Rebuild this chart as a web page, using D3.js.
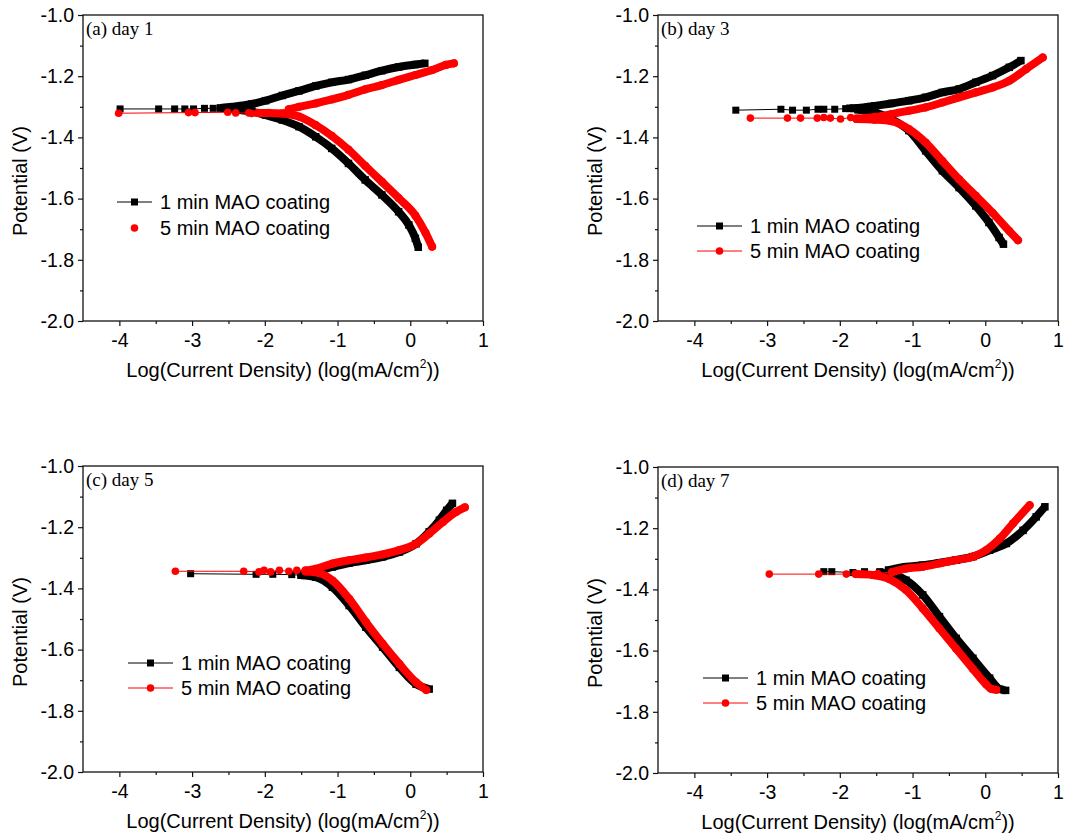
<!DOCTYPE html>
<html>
<head>
<meta charset="utf-8">
<script src="https://cdn.jsdelivr.net/npm/d3@7"></script>
<style>
body { margin: 0; background: #fff; }
svg text { font-family: "Liberation Sans", Arial, sans-serif; fill: #000; }
</style>
</head>
<body>
<div id="chart"></div>
<script>
const w = 1083;
const h = 837;
const pw = 400;
const ph = 306;

const panelLabels = ["(a) day 1", "(b) day 3", "(c) day 5", "(d) day 7"];
const seriesNames = ["1 min MAO coating", "5 min MAO coating"];
const xTicks = [-4, -3, -2, -1, 0, 1];
const xMinor = [-3.5, -2.5, -1.5, -0.5, 0.5];
const yTicks = [-1.0, -1.2, -1.4, -1.6, -1.8, -2.0];
const yMinor = [-1.1, -1.3, -1.5, -1.7, -1.9];

// (a) day 1
const a1Sparse = [[-3.99,-1.307],[-3.46,-1.307],[-3.24,-1.307],[-3.10,-1.307],[-2.98,-1.307],[-2.83,-1.305],[-2.71,-1.305],[-2.61,-1.304]];
const a1Anodic = [[-2.61,-1.304],[-2.45,-1.300],[-2.18,-1.291],[-1.99,-1.280],[-1.76,-1.263],[-1.53,-1.248],[-1.30,-1.232],[-1.08,-1.220],[-0.85,-1.211],[-0.62,-1.197],[-0.39,-1.182],[-0.16,-1.170],[0.07,-1.162],[0.20,-1.158]];
const a1Cathodic = [[-2.45,-1.308],[-2.18,-1.316],[-1.99,-1.327],[-1.76,-1.343],[-1.53,-1.365],[-1.30,-1.398],[-1.08,-1.436],[-0.85,-1.485],[-0.62,-1.539],[-0.39,-1.588],[-0.16,-1.643],[-0.02,-1.686],[0.07,-1.730],[0.11,-1.759]];
const a5Sparse = [[-4.01,-1.321],[-3.05,-1.319],[-2.96,-1.319],[-2.51,-1.318],[-2.40,-1.320],[-2.22,-1.320],[-2.18,-1.322],[-2.09,-1.320]];
const a5Anodic = [[-1.67,-1.308],[-1.53,-1.300],[-1.30,-1.289],[-1.08,-1.276],[-0.85,-1.261],[-0.62,-1.243],[-0.39,-1.229],[-0.16,-1.212],[0.07,-1.196],[0.30,-1.180],[0.49,-1.163],[0.60,-1.158]];
const a5Cathodic = [[-2.09,-1.320],[-1.95,-1.320],[-1.76,-1.322],[-1.53,-1.332],[-1.30,-1.360],[-1.08,-1.395],[-0.85,-1.440],[-0.62,-1.493],[-0.39,-1.545],[-0.16,-1.598],[0.07,-1.655],[0.21,-1.712],[0.30,-1.757]];

// (b) day 3
const b1Sparse = [[-3.43,-1.311],[-2.81,-1.308],[-2.65,-1.311],[-2.46,-1.311],[-2.30,-1.308],[-2.22,-1.308],[-2.07,-1.308],[-1.92,-1.306],[-1.86,-1.305]];
const b1Anodic = [[-1.86,-1.305],[-1.75,-1.304],[-1.52,-1.297],[-1.29,-1.289],[-1.05,-1.280],[-0.82,-1.269],[-0.59,-1.253],[-0.36,-1.242],[-0.13,-1.220],[0.10,-1.198],[0.33,-1.171],[0.49,-1.149]];
const b1Cathodic = [[-1.75,-1.310],[-1.52,-1.318],[-1.29,-1.340],[-1.05,-1.378],[-0.82,-1.444],[-0.59,-1.509],[-0.36,-1.564],[-0.13,-1.624],[0.05,-1.678],[0.19,-1.727],[0.25,-1.749]];
const b5Sparse = [[-3.23,-1.337],[-2.72,-1.337],[-2.54,-1.337],[-2.31,-1.337],[-2.22,-1.335],[-2.13,-1.337],[-1.99,-1.340],[-1.85,-1.335],[-1.77,-1.340]];
const b5Anodic = [[-1.77,-1.338],[-1.52,-1.333],[-1.29,-1.324],[-1.05,-1.313],[-0.82,-1.302],[-0.59,-1.286],[-0.36,-1.269],[-0.13,-1.253],[0.10,-1.237],[0.33,-1.215],[0.56,-1.177],[0.79,-1.139]];
const b5Cathodic = [[-1.77,-1.340],[-1.52,-1.342],[-1.29,-1.347],[-1.05,-1.373],[-0.82,-1.417],[-0.59,-1.477],[-0.36,-1.537],[-0.13,-1.591],[0.10,-1.646],[0.33,-1.706],[0.45,-1.736]];

// (c) day 5
const c1Sparse = [[-3.02,-1.352],[-2.12,-1.354],[-1.89,-1.354],[-1.63,-1.355],[-1.50,-1.357]];
const c1Anodic = [[-1.50,-1.355],[-1.30,-1.346],[-1.07,-1.330],[-0.84,-1.317],[-0.61,-1.308],[-0.38,-1.297],[-0.15,-1.281],[0.08,-1.254],[0.26,-1.215],[0.40,-1.177],[0.50,-1.145],[0.58,-1.122]];
const c1Cathodic = [[-1.50,-1.357],[-1.30,-1.363],[-1.07,-1.396],[-0.84,-1.456],[-0.61,-1.527],[-0.38,-1.592],[-0.15,-1.658],[0.08,-1.713],[0.26,-1.729]];
const c5Sparse = [[-3.23,-1.344],[-2.29,-1.344],[-2.08,-1.346],[-2.01,-1.341],[-1.92,-1.346],[-1.80,-1.341],[-1.67,-1.344],[-1.56,-1.341],[-1.44,-1.341]];
const c5Anodic = [[-1.44,-1.342],[-1.30,-1.336],[-1.07,-1.319],[-0.84,-1.308],[-0.61,-1.299],[-0.38,-1.289],[-0.15,-1.275],[0.08,-1.254],[0.26,-1.221],[0.45,-1.183],[0.63,-1.150],[0.75,-1.135]];
const c5Cathodic = [[-1.44,-1.345],[-1.25,-1.350],[-1.07,-1.374],[-0.84,-1.434],[-0.61,-1.510],[-0.38,-1.581],[-0.15,-1.647],[0.08,-1.707],[0.22,-1.732]];

// (d) day 7
const d1Sparse = [[-2.22,-1.342],[-2.11,-1.342],[-1.82,-1.345],[-1.66,-1.342],[-1.45,-1.342],[-1.33,-1.337]];
const d1Anodic = [[-1.33,-1.337],[-1.09,-1.326],[-0.86,-1.321],[-0.63,-1.313],[-0.40,-1.304],[-0.17,-1.293],[0.06,-1.272],[0.29,-1.250],[0.52,-1.207],[0.70,-1.163],[0.82,-1.130]];
const d1Cathodic = [[-1.45,-1.345],[-1.32,-1.348],[-1.09,-1.370],[-0.86,-1.418],[-0.63,-1.489],[-0.40,-1.560],[-0.17,-1.625],[0.06,-1.690],[0.20,-1.726],[0.28,-1.730]];
const d5Sparse = [[-2.97,-1.350],[-2.29,-1.350],[-1.91,-1.350],[-1.69,-1.350],[-1.48,-1.348],[-1.28,-1.343]];
const d5Anodic = [[-1.28,-1.343],[-1.09,-1.332],[-0.86,-1.326],[-0.63,-1.315],[-0.40,-1.304],[-0.17,-1.293],[0.01,-1.272],[0.20,-1.234],[0.38,-1.185],[0.61,-1.125]];
const d5Cathodic = [[-1.78,-1.350],[-1.55,-1.353],[-1.32,-1.366],[-1.09,-1.402],[-0.86,-1.462],[-0.63,-1.528],[-0.40,-1.594],[-0.17,-1.660],[0.01,-1.710],[0.08,-1.725],[0.15,-1.728]];

const panelData = [
	[[a1Sparse, a1Anodic, a1Cathodic], [a5Sparse, a5Anodic, a5Cathodic]],
	[[b1Sparse, b1Anodic, b1Cathodic], [b5Sparse, b5Anodic, b5Cathodic]],
	[[c1Sparse, c1Anodic, c1Cathodic], [c5Sparse, c5Anodic, c5Cathodic]],
	[[d1Sparse, d1Anodic, d1Cathodic], [d5Sparse, d5Anodic, d5Cathodic]]
];

// layout of each panel (pixels)
const layout = [
	{left: 83, top: 15, legX1: 34, legX2: 69, legY: [187, 213], redLegLine: false},
	{left: 658, top: 15, legX1: 39, legX2: 84, legY: [211, 236], redLegLine: true},
	{left: 83, top: 466, legX1: 45, legX2: 90, legY: [197, 222], redLegLine: true},
	{left: 658, top: 467, legX1: 45, legX2: 90, legY: [211, 236], redLegLine: true}
];

const colors = ["#000000", "#ff0000"];

let svg = d3.select('#chart')
	.append('svg')
		.attr('width', w)
		.attr('height', h);

let xScale = d3.scaleLinear().domain([-4.5, 1]).range([0, pw]);
let yScale = d3.scaleLinear().domain([-2.0, -1.0]).range([ph, 0]);

function marker(g, x, y, i, size) {
	if (i === 0) {
		g.append("rect")
			.attr("x", x - size / 2)
			.attr("y", y - size / 2)
			.attr("width", size)
			.attr("height", size)
			.attr("fill", colors[0]);
	} else {
		g.append("circle")
			.attr("cx", x)
			.attr("cy", y)
			.attr("r", size / 2 + 0.3)
			.attr("fill", colors[1]);
	}
}

function drawSeries(g, series, i) {
	const [sparse, anodic, cathodic] = series;
	const thin = d3.line()
		.x(d => xScale(d[0]))
		.y(d => yScale(d[1]));
	const thick = d3.line()
		.curve(d3.curveMonotoneX)
		.x(d => xScale(d[0]))
		.y(d => yScale(d[1]));

	// thin connecting line through the sparse points
	g.append("path")
		.attr("d", thin(sparse.concat([anodic[0]])))
		.attr("fill", "none")
		.attr("stroke", colors[i])
		.attr("stroke-width", 1);

	// dense branches look like a thick band of markers
	[anodic, cathodic].forEach(branch => {
		g.append("path")
			.attr("d", thick(branch))
			.attr("fill", "none")
			.attr("stroke", colors[i])
			.attr("stroke-width", 8)
			.attr("stroke-linejoin", "round")
			.attr("stroke-linecap", i === 0 ? "butt" : "round");
		branch.forEach(d => marker(g, xScale(d[0]), yScale(d[1]), i, 7.5));
	});

	sparse.forEach(d => marker(g, xScale(d[0]), yScale(d[1]), i, 7));
}

function drawPanel(p) {
	const L = layout[p];
	const g = svg.append("g").attr("transform", "translate(" + L.left + "," + L.top + ")");

	// axes
	g.append("g")
		.attr("transform", "translate(0," + ph + ")")
		.call(d3.axisBottom(xScale).tickValues(xTicks).tickSizeInner(5).tickSizeOuter(0).tickPadding(7).tickFormat(d => String(d)));
	g.append("g")
		.attr("transform", "translate(0," + ph + ")")
		.call(d3.axisBottom(xScale).tickValues(xMinor).tickSizeInner(3).tickSizeOuter(0).tickFormat(""));
	g.append("g")
		.call(d3.axisLeft(yScale).tickValues(yTicks).tickSizeInner(5).tickSizeOuter(0).tickPadding(4).tickFormat(d => d.toFixed(1)));
	g.append("g")
		.call(d3.axisLeft(yScale).tickValues(yMinor).tickSizeInner(3).tickSizeOuter(0).tickFormat(""));

	g.selectAll(".domain").remove();
	g.selectAll(".tick line").attr("stroke", "#111").attr("stroke-width", 1.2);
	g.selectAll(".tick text")
		.attr("font-size", 19.5)
		.attr("font-family", "Liberation Sans, Arial, sans-serif")
		.attr("fill", "#000");

	// data
	const plot = g.append("g");
	panelData[p].forEach((series, i) => drawSeries(plot, series, i));

	// frame
	g.append("rect")
		.attr("width", pw)
		.attr("height", ph)
		.attr("fill", "none")
		.attr("stroke", "#111")
		.attr("stroke-width", 1.3);

	// panel label
	g.append("text")
		.attr("x", 3)
		.attr("y", 20)
		.attr("font-size", 19)
		.style("font-family", "'Liberation Serif', 'Times New Roman', serif")
		.text(panelLabels[p]);

	// axis titles
	g.append("text")
		.attr("transform", "translate(-56," + (ph / 2 + 13) + ") rotate(-90)")
		.attr("text-anchor", "middle")
		.attr("font-size", 20)
		.text("Potential (V)");

	const xt = g.append("text")
		.attr("x", pw / 2)
		.attr("y", ph + 56)
		.attr("text-anchor", "middle")
		.attr("font-size", 20);
	xt.append("tspan").text("Log(Current Density) (log(mA/cm");
	xt.append("tspan").attr("font-size", 12).attr("dy", -9).text("2");
	xt.append("tspan").attr("dy", 9).text("))");

	// legend
	seriesNames.forEach((name, i) => {
		const ly = L.legY[i];
		if (i === 0 || L.redLegLine) {
			g.append("line")
				.attr("x1", L.legX1).attr("x2", L.legX2)
				.attr("y1", ly).attr("y2", ly)
				.attr("stroke", colors[i])
				.attr("stroke-width", 1);
		}
		marker(g, (L.legX1 + L.legX2) / 2, ly, i, 7);
		g.append("text")
			.attr("x", L.legX2 + 8)
			.attr("y", ly)
			.attr("dy", "0.35em")
			.attr("font-size", 20)
			.text(name);
	});
}

for (let p = 0; p < 4; p++) {
	drawPanel(p);
}
</script>
</body>
</html>
